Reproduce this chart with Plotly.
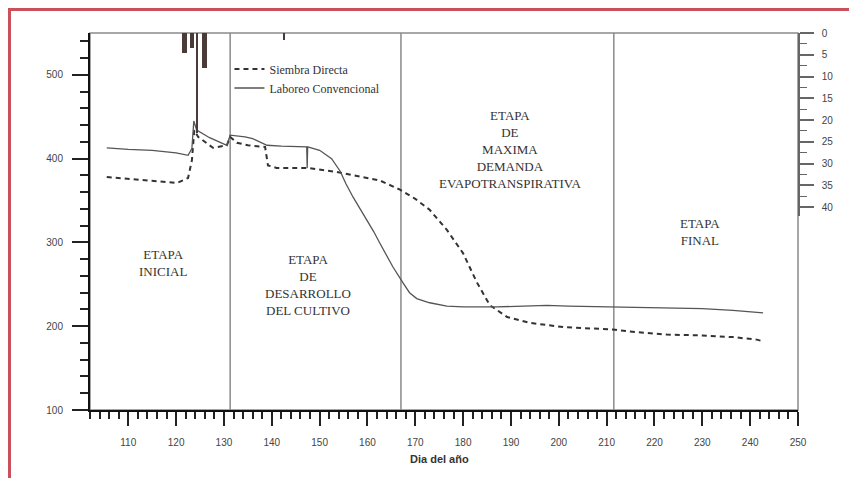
import plotly.graph_objects as go

# ---- data ----
sd_days = [105.5, 110, 115, 120.2, 122.5, 123.3, 123.8, 124.6, 127.7, 130.6, 131.3, 132.7, 135, 138.6,
           139.2, 141, 147.4, 153.6, 159.9, 162.6, 166.8, 170, 173, 176.6, 180, 182.9, 185.6, 189.2,
           194, 200.9, 211.3, 216, 222.6, 230, 236.4, 241.4, 242.7]
sd_vals = [378, 376, 374, 371, 377, 398, 434, 426, 413, 416, 426, 419, 416, 414,
           392, 389, 389, 384, 377, 374, 363, 352, 339, 315, 287, 252, 225, 211,
           204, 199, 196, 193, 190, 189, 187, 184, 182]

lc_days = [105.5, 110, 115, 120, 122.5, 123.3, 123.7, 124.3, 127, 130.6, 131.3, 134.4, 136, 139, 142,
           147.3, 147.4, 147.5, 150, 152.5, 154.3, 155.5, 157, 158.5, 159.9, 161.3, 162.6, 164, 165.3,
           167.4, 168.8, 170.3, 173, 176.6, 180, 187, 192, 197.5, 202, 211, 218, 225, 230, 236.4, 240, 242.7]
lc_vals = [413, 411, 410, 407, 404, 412, 445, 434, 425, 416, 428, 426, 424, 416, 415,
           414, 389, 414, 410, 400, 385, 370, 354, 340, 327, 313, 299, 285, 271,
           252, 240, 233, 228, 224, 223, 223, 224, 225, 224, 223, 223, 222, 221, 219, 217, 216]

precip_days = [121.7, 123.3, 124.4, 126.0, 142.6]
precip_mm = [4.5, 3.5, 23, 8, 1.5]
precip_width = [1.0, 0.8, 0.5, 1.0, 0.5]

stage_lines = [131.3, 167.0, 211.5]
stage_labels = ["ETAPA<br>INICIAL",
                "ETAPA<br>DE<br>DESARROLLO<br>DEL CULTIVO",
                "ETAPA<br>DE<br>MAXIMA<br>DEMANDA<br>EVAPOTRANSPIRATIVA",
                "ETAPA<br>FINAL"]
stage_label_x = [117.3, 147.6, 189.8, 229.5]
stage_label_y = [275, 249, 411, 312]

x_ticks = list(range(110, 251, 10))
y_ticks = [100, 200, 300, 400, 500]
y2_ticks = [0, 5, 10, 15, 20, 25, 30, 35, 40]

SERIF = "Liberation Serif"
SANS = "Liberation Sans"

fig = go.Figure()

fig.add_trace(go.Bar(x=precip_days, y=precip_mm, width=precip_width, yaxis="y2",
                     marker=dict(color="#4a3b38", line=dict(width=0)), showlegend=False))

fig.add_trace(go.Scatter(x=sd_days, y=sd_vals, mode="lines", name="Siembra Directa",
                         line=dict(color="#333333", width=2, dash="5px,4px")))
fig.add_trace(go.Scatter(x=lc_days, y=lc_vals, mode="lines", name="Laboreo Convencional",
                         line=dict(color="#555555", width=1.3)))

shapes = []
for d in stage_lines:
    shapes.append(dict(type="line", xref="x", yref="paper", x0=d, x1=d, y0=0, y1=1,
                       line=dict(color="#8a8a8a", width=1.5), layer="below"))
# plot frame
shapes.append(dict(type="rect", xref="paper", yref="paper", x0=0, x1=1, y0=0, y1=1,
                   line=dict(color="#8a8a8a", width=1.5), layer="below"))
# red outer border
shapes.append(dict(type="rect", xref="paper", yref="paper", x0=-0.1137, x1=1.0749, y0=-0.3, y1=1.0623,
                   line=dict(color="#cc4f5c", width=3)))

annotations = []
for t, x, y in zip(stage_labels, stage_label_x, stage_label_y):
    annotations.append(dict(text=t, x=x, y=y, xref="x", yref="y", showarrow=False,
                            font=dict(family=SERIF, size=13, color="#333333"), align="center"))
annotations.append(dict(text="<b>Dia del año</b>", x=0.494, y=-0.151, xref="paper", yref="paper",
                        showarrow=False, font=dict(family=SANS, size=11, color="#333333")))

fig.update_layout(
    width=849, height=470,
    margin=dict(l=82, r=59, t=25, b=68),
    paper_bgcolor="white", plot_bgcolor="rgba(0,0,0,0)",
    shapes=shapes, annotations=annotations,
    bargap=0,
    legend=dict(x=0.197, y=0.943, xanchor="left", yanchor="top", bgcolor="rgba(0,0,0,0)",
                font=dict(family=SERIF, size=12, color="#333333"), itemwidth=30,
                tracegroupgap=0),
    xaxis=dict(range=[102, 250], tickvals=x_ticks, showgrid=False, zeroline=False,
               showline=True, linecolor="#111111", linewidth=2,
               ticks="outside", ticklen=14, tickwidth=2, tickcolor="#222222", ticklabelstandoff=8,
               minor=dict(dtick=2, tick0=0, ticks="outside", ticklen=7, tickwidth=1.5, tickcolor="#222222"),
               tickfont=dict(family=SANS, size=10, color="#444444")),
    yaxis=dict(range=[100, 550], tickvals=y_ticks, showgrid=False, zeroline=False,
               showline=True, linecolor="#111111", linewidth=2,
               ticks="outside", ticklen=16, tickwidth=2, tickcolor="#222222", ticklabelstandoff=7,
               minor=dict(dtick=20, tick0=0, ticks="outside", ticklen=8, tickwidth=1.5, tickcolor="#222222"),
               tickfont=dict(family=SANS, size=10, color="#444444")),
    yaxis2=dict(domain=[0.515, 1], range=[42, 0], anchor="x", side="right", tickvals=y2_ticks,
                showgrid=False, zeroline=False, showline=True, linecolor="#666666", linewidth=1.5,
                ticks="outside", ticklen=14, tickwidth=1.5, tickcolor="#666666", ticklabelstandoff=6,
                minor=dict(dtick=2.5, tick0=0, ticks="outside", ticklen=7, tickwidth=1, tickcolor="#666666"),
                tickfont=dict(family=SANS, size=10, color="#444444")),
)

fig.write_html("out.html")
